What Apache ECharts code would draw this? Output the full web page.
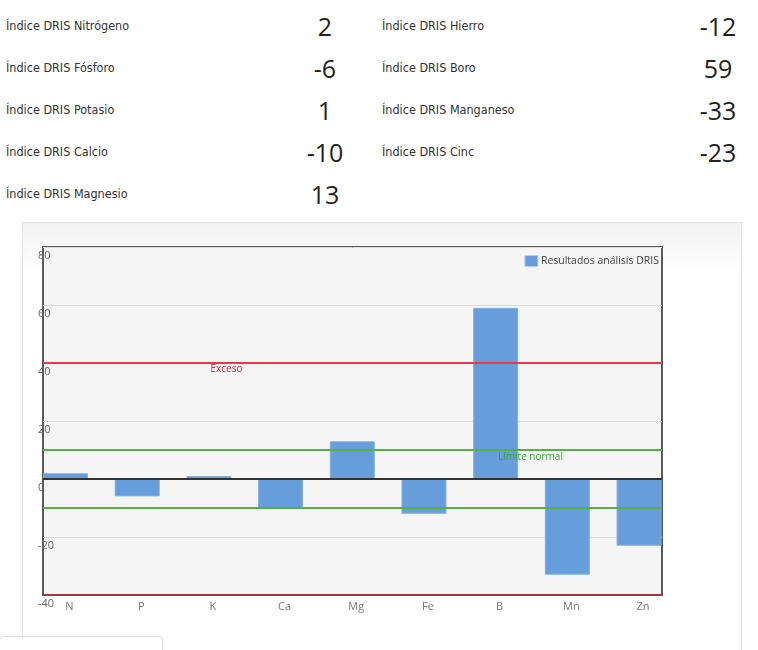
<!DOCTYPE html>
<html>
<head>
<meta charset="utf-8">
<script src="https://cdn.jsdelivr.net/npm/echarts@6/dist/echarts.min.js"></script>
<style>
  html, body { margin: 0; padding: 0; background: #fff; width: 758px; height: 650px; overflow: hidden; position: relative; }
  .lbl { position: absolute; font-family: "DejaVu Sans Condensed", "Liberation Sans Narrow", sans-serif; font-stretch: condensed; font-size: 12.5px; color: #333; line-height: 20px; white-space: nowrap; }
  .val { position: absolute; font-family: "Open Sans", sans-serif; font-size: 25px; color: #222; line-height: 30px; width: 100px; text-align: center; white-space: nowrap; }
  #box { position: absolute; left: 22px; top: 222px; width: 720px; height: 450px; box-sizing: border-box; border: 1px solid #e2e2e2; background: linear-gradient(#f2f2f2, #ffffff 50px); }
  #chart { width: 718px; height: 448px; }
  #tab { position: absolute; left: -1px; top: 636px; width: 162px; height: 30px; border: 1px solid #ddd; border-radius: 4px 4px 0 0; background: #fff; }
</style>
</head>
<body>
<div id="summary"></div>
<div id="box"><div id="chart"></div></div>
<div id="tab"></div>
<script>
// ---- data ----
const symbols = ["N", "P", "K", "Ca", "Mg", "Fe", "B", "Mn", "Zn"];
const indexNames = ["Índice DRIS Nitrógeno", "Índice DRIS Fósforo", "Índice DRIS Potasio", "Índice DRIS Calcio", "Índice DRIS Magnesio", "Índice DRIS Hierro", "Índice DRIS Boro", "Índice DRIS Manganeso", "Índice DRIS Cinc"];
const driValues = [2, -6, 1, -10, 13, -12, 59, -33, -23];
const seriesName = "Resultados análisis DRIS";
const excessLimit = 40;
const normalLimit = 10;
const yTicks = [-40, -20, 0, 20, 40, 60, 80];

// ---- top summary text ----
const summaryEl = document.getElementById('summary');
indexNames.forEach((name, i) => {
  const col = i < 5 ? 0 : 1;
  const row = i < 5 ? i : i - 5;
  const cy = 26 + 42 * row;
  const l = document.createElement('div');
  l.className = 'lbl';
  l.textContent = name;
  l.style.left = (col ? 382 : 6) + 'px';
  l.style.top = (cy - 10) + 'px';
  summaryEl.appendChild(l);
  const v = document.createElement('div');
  v.className = 'val';
  v.textContent = String(driValues[i]);
  v.style.left = ((col ? 718 : 325) - 50) + 'px';
  v.style.top = (cy - 15) + 'px';
  summaryEl.appendChild(v);
});

// ---- chart ----
const chart = echarts.init(document.getElementById('chart'), null, { renderer: 'canvas' });
const idx = symbols.map((s, i) => i);
const option = {
  animation: false,
  textStyle: { fontFamily: 'Open Sans' },
  legend: {
    data: [seriesName],
    right: 82, top: 32, padding: 0,
    icon: 'rect', itemWidth: 13, itemHeight: 11,
    itemStyle: { borderColor: '#b5d0ef', borderWidth: 1 },
    textStyle: { fontSize: 10.5, color: '#444', fontFamily: 'Open Sans', padding: [0, 0, 0, -2] }
  },
  grid: {
    left: 20, top: 24, width: 619, height: 348,
    show: true, backgroundColor: '#f5f5f5', borderColor: '#5a5a5a', borderWidth: 2,
    containLabel: false
  },
  xAxis: {
    type: 'value',
    min: -0.314, max: 8.32,
    axisLine: { show: false },
    axisTick: { show: false },
    splitLine: { show: false },
    axisLabel: {
      customValues: idx,
      formatter: v => symbols[Math.round(v)] || '',
      color: '#777', fontSize: 11, margin: 6, padding: [0, 0, 0, 8]
    }
  },
  yAxis: {
    type: 'value',
    min: yTicks[0], max: yTicks[yTicks.length - 1], interval: 20,
    axisLine: { show: false },
    axisTick: { show: false },
    splitLine: { show: true, lineStyle: { color: '#dcdcdc', width: 1 } },
    axisLabel: { color: '#666', fontSize: 11, align: 'left', verticalAlign: 'top', margin: 5, padding: [3, 0, 0, 0] }
  },
  series: [{
    name: seriesName,
    type: 'bar',
    barWidth: 45,
    data: idx.map(i => [i, driValues[i]]),
    itemStyle: { color: '#669edb', borderColor: '#7db0e6', borderWidth: 1 },
    markLine: {
      silent: true,
      symbol: 'none',
      animation: false,
      data: [
        { yAxis: excessLimit, lineStyle: { color: '#e8394a', width: 2, type: 'solid' },
          label: { show: true, formatter: 'Exceso', position: 'insideMiddleBottom', offset: [-126, 0], distance: 1, color: '#e0203a', fontSize: 10 } },
        { yAxis: normalLimit, lineStyle: { color: '#55b047', width: 2, type: 'solid' },
          label: { show: true, formatter: 'Límite normal', position: 'insideMiddleBottom', offset: [178, 0], distance: 2, color: '#3aa33a', fontSize: 10 } },
        { yAxis: -normalLimit, lineStyle: { color: '#55b047', width: 2, type: 'solid' }, label: { show: false } },
        { yAxis: 0, lineStyle: { color: '#333', width: 2, type: 'solid' }, label: { show: false } },
        { yAxis: -excessLimit, lineStyle: { color: '#b0323e', width: 2, type: 'solid' }, label: { show: false } }
      ]
    }
  }]
};
chart.setOption(option);
</script>
</body>
</html>
